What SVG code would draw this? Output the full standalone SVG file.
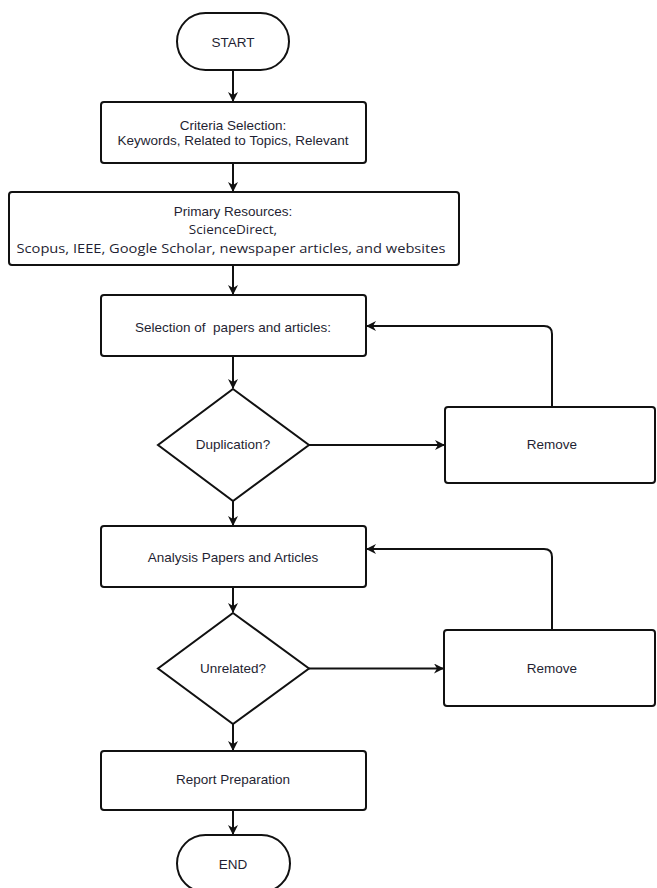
<svg xmlns="http://www.w3.org/2000/svg" width="657" height="888" viewBox="0 0 657 888">
<style>
.shape{fill:#fff;stroke:#111;stroke-width:2}
.t{font-family:"Liberation Sans",Arial,sans-serif;font-size:13.5px;fill:#1f1f33;text-anchor:middle;dominant-baseline:central}
.c{font-family:"Open Sans","Noto Sans",sans-serif;font-size:13.5px;fill:#1f1f33;text-anchor:middle;dominant-baseline:central}
.edge{fill:none;stroke:#111;stroke-width:2}
</style>
<defs>
<marker id="arr" viewBox="0 0 10 10" refX="9" refY="5" markerWidth="5" markerHeight="5" orient="auto" markerUnits="strokeWidth">
<path d="M0,0 L10,5 L0,10 L3,5 z" fill="#111"/>
</marker>
</defs>
<rect width="657" height="888" fill="#fff"/>
<g id="connectors">
<path class="edge" d="M233,70 V101" marker-end="url(#arr)"/>
<path class="edge" d="M233,163 V191" marker-end="url(#arr)"/>
<path class="edge" d="M233,265 V294" marker-end="url(#arr)"/>
<path class="edge" d="M233,356 V388" marker-end="url(#arr)"/>
<path class="edge" d="M309,445 H444" marker-end="url(#arr)"/>
<path class="edge" d="M552,407 V334 Q552,326 544,326 H367" marker-end="url(#arr)"/>
<path class="edge" d="M233,501 V525" marker-end="url(#arr)"/>
<path class="edge" d="M233,587 V612" marker-end="url(#arr)"/>
<path class="edge" d="M309,668.5 H443" marker-end="url(#arr)"/>
<path class="edge" d="M552,630 V557 Q552,549 544,549 H367" marker-end="url(#arr)"/>
<path class="edge" d="M233,724 V750" marker-end="url(#arr)"/>
<path class="edge" d="M233,810 V834" marker-end="url(#arr)"/>
</g>
<g id="start">
<rect class="shape" x="177" y="13" width="112" height="57" rx="28.5"/>
<text class="t" x="233" y="42">START</text>
</g>
<g id="criteria">
<rect class="shape" x="101" y="102" width="265" height="61" rx="3"/>
<text class="t" x="233" y="125">Criteria Selection:</text>
<text class="t" x="233" y="140">Keywords, Related to Topics, Relevant</text>
</g>
<g id="primary">
<rect class="shape" x="9" y="192" width="450" height="73" rx="3"/>
<text class="t" x="233" y="211">Primary Resources:</text>
<text class="c" x="233" y="229">ScienceDirect,</text>
<text class="c" x="231" y="247.5" textLength="429" lengthAdjust="spacingAndGlyphs">Scopus, IEEE, Google Scholar, newspaper articles, and websites</text>
</g>
<g id="selection">
<rect class="shape" x="101" y="295" width="265" height="61" rx="3"/>
<text class="t" x="233" y="327" xml:space="preserve">Selection of  papers and articles:</text>
</g>
<g id="duplication">
<polygon class="shape" points="233,389 309,445 233,501 158,445"/>
<text class="t" x="233" y="444">Duplication?</text>
</g>
<g id="remove1">
<rect class="shape" x="445" y="407" width="210" height="76" rx="3"/>
<text class="t" x="552" y="444">Remove</text>
</g>
<g id="analysis">
<rect class="shape" x="101" y="526" width="265" height="61" rx="3"/>
<text class="t" x="233" y="557">Analysis Papers and Articles</text>
</g>
<g id="unrelated">
<polygon class="shape" points="233,613 309,668.5 233,724 158,668.5"/>
<text class="t" x="233" y="668">Unrelated?</text>
</g>
<g id="remove2">
<rect class="shape" x="444" y="630" width="211" height="76" rx="3"/>
<text class="t" x="552" y="668">Remove</text>
</g>
<g id="report">
<rect class="shape" x="101" y="751" width="265" height="59" rx="3"/>
<text class="t" x="233" y="779">Report Preparation</text>
</g>
<g id="end">
<rect class="shape" x="177" y="835" width="113" height="57" rx="28.5"/>
<text class="t" x="233" y="864">END</text>
</g>
</svg>
